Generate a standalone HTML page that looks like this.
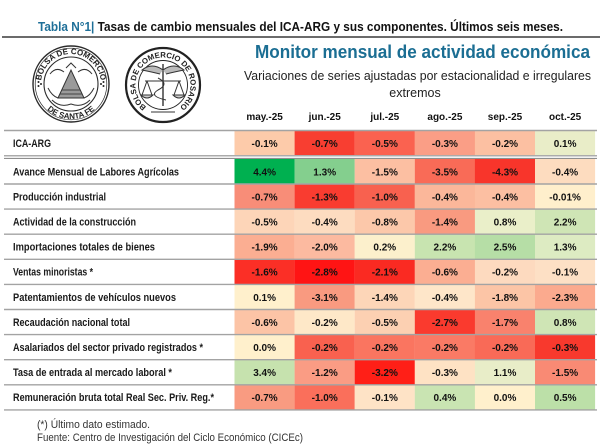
<!DOCTYPE html>
<html><head><meta charset="utf-8"><style>
html,body{margin:0;padding:0;background:#fff;}
svg{display:block;}
text{font-family:"Liberation Sans",sans-serif;}
</style></head><body>
<svg width="600" height="444" viewBox="0 0 600 444" xmlns="http://www.w3.org/2000/svg">
<rect width="600" height="444" fill="#fff"/>
<!-- Title -->
<text x="38" y="31" font-size="12.5" font-weight="bold" textLength="525" lengthAdjust="spacingAndGlyphs"><tspan fill="#1E6F98">Tabla N°1|</tspan><tspan fill="#111"> Tasas de cambio mensuales del ICA-ARG y sus componentes. Últimos seis meses.</tspan></text>
<line x1="2" y1="37" x2="600" y2="37" stroke="#6b6b6b" stroke-width="2"/>

<!-- Left logo -->
<g fill="none" stroke="#2a2a2a">
<circle cx="71" cy="84" r="38" stroke-width="1.4"/>
<circle cx="71" cy="84" r="35.8" stroke-width="0.7"/>
<circle cx="71" cy="84" r="27" stroke-width="1.1"/>
</g>
<defs>
<path id="lt" d="M 41 84 A 30 30 0 0 1 101 84"/>
<path id="lb" d="M 36 84 A 35 35 0 0 0 106 84"/>
<path id="rt" d="M 149.25 108.8 A 27.5 27.5 0 1 1 176.75 108.8"/>
</defs>
<text font-size="8" font-weight="bold" fill="#222"><textPath href="#lt" startOffset="50%" text-anchor="middle">BOLSA DE COMERCIO</textPath></text>
<text font-size="8" font-weight="bold" fill="#222"><textPath href="#lb" startOffset="50%" text-anchor="middle">DE SANTA FE</textPath></text>
<circle cx="38.5" cy="82" r="1" fill="#222"/><circle cx="38.5" cy="86" r="1" fill="#222"/><circle cx="41" cy="84" r="1" fill="#222"/>
<circle cx="103.5" cy="82" r="1" fill="#222"/><circle cx="103.5" cy="86" r="1" fill="#222"/><circle cx="101" cy="84" r="1" fill="#222"/>
<g stroke="#333" fill="none" stroke-width="1">
<path d="M58 98 L71 70 L84 98 Z" fill="#9a9a9a"/>
<path d="M62 90 L80 90 M60 94 L82 94" stroke="#444"/>
<path d="M50 74 Q56 66 64 72 M92 74 Q86 66 78 72"/>
<path d="M52 100 Q60 108 71 104 Q82 108 90 100"/>
<path d="M48 88 Q52 96 58 98 M94 88 Q90 96 84 98"/>
<path d="M66 68 L71 63 L76 68" />
</g>

<!-- Right logo -->
<g fill="none" stroke="#222">
<circle cx="163" cy="85" r="37" stroke-width="2.2"/>
<circle cx="163" cy="85" r="24.5" stroke-width="0.9"/>
</g>
<text font-size="7.8" font-weight="bold" fill="#222"><textPath href="#rt" startOffset="50%" text-anchor="middle">BOLSA DE COMERCIO DE ROSARIO</textPath></text>
<g stroke="#333" fill="none" stroke-width="1">
<line x1="163" y1="64" x2="163" y2="106" stroke-width="1.4"/>
<path d="M163 70 Q152 62 142 70 Q152 72 160 74 M163 70 Q174 62 184 70 Q174 72 166 74" fill="#bbb"/>
<line x1="145" y1="81" x2="181" y2="81"/>
<path d="M147 81 L142 95 M147 81 L152 95 M179 81 L174 95 M179 81 L184 95"/>
<path d="M141 95 Q147 101 153 95 Z M173 95 Q179 101 185 95 Z" fill="#ccc"/>
<path d="M158 78 Q170 84 158 90 Q148 96 166 100"/>
<line x1="151" y1="112" x2="175" y2="112"/>
</g>

<!-- Headings -->
<text x="255" y="58" font-size="18" font-weight="bold" fill="#1B6E93" textLength="335" lengthAdjust="spacingAndGlyphs">Monitor mensual de actividad económica</text>
<text x="244" y="80" font-size="12.5" fill="#222" textLength="347" lengthAdjust="spacingAndGlyphs">Variaciones de series ajustadas por estacionalidad e irregulares</text>
<text x="415" y="97" font-size="12.5" fill="#222" text-anchor="middle">extremos</text>

<g font-size="10" font-weight="bold" fill="#111" text-anchor="middle">
<text x="264.6" y="120">may.-25</text>
<text x="324.7" y="120">jun.-25</text>
<text x="384.8" y="120">jul.-25</text>
<text x="444.9" y="120">ago.-25</text>
<text x="505" y="120">sep.-25</text>
<text x="565.1" y="120">oct.-25</text>
</g>

<!-- ICA row cells -->
<g>
<rect x="234.5" y="131" width="60.2" height="24" fill="#FDCBAA"/>
<rect x="294.6" y="131" width="60.2" height="24" fill="#F83E31"/>
<rect x="354.7" y="131" width="60.2" height="24" fill="#FA6250"/>
<rect x="414.8" y="131" width="60.2" height="24" fill="#FA9E86"/>
<rect x="474.9" y="131" width="60.2" height="24" fill="#FCC0A2"/>
<rect x="535" y="131" width="60.1" height="24" fill="#E9EDC8"/>
</g>

<!-- Body cells -->
<g>
<rect x="234.5" y="159" width="60.2" height="25.1" fill="#00B050"/>
<rect x="294.6" y="159" width="60.2" height="25.1" fill="#84CF8E"/>
<rect x="354.7" y="159" width="60.2" height="25.1" fill="#FCBFA2"/>
<rect x="414.8" y="159" width="60.2" height="25.1" fill="#F96B57"/>
<rect x="474.9" y="159" width="60.2" height="25.1" fill="#F8352B"/>
<rect x="535" y="159" width="60.1" height="25.1" fill="#FDDCBF"/>
<rect x="234.5" y="184" width="60.2" height="25.2" fill="#F88D78"/>
<rect x="294.6" y="184" width="60.2" height="25.2" fill="#F93C30"/>
<rect x="354.7" y="184" width="60.2" height="25.2" fill="#F8614F"/>
<rect x="414.8" y="184" width="60.2" height="25.2" fill="#FBB79A"/>
<rect x="474.9" y="184" width="60.2" height="25.2" fill="#FCBFA2"/>
<rect x="535" y="184" width="60.1" height="25.2" fill="#FFEFCC"/>
<rect x="234.5" y="209.1" width="60.2" height="25.2" fill="#FDD5B8"/>
<rect x="294.6" y="209.1" width="60.2" height="25.2" fill="#FDDCC0"/>
<rect x="354.7" y="209.1" width="60.2" height="25.2" fill="#FCC8AA"/>
<rect x="414.8" y="209.1" width="60.2" height="25.2" fill="#F99A80"/>
<rect x="474.9" y="209.1" width="60.2" height="25.2" fill="#EAEFC9"/>
<rect x="535" y="209.1" width="60.1" height="25.2" fill="#CFE5B5"/>
<rect x="234.5" y="234.2" width="60.2" height="25.2" fill="#FBAE92"/>
<rect x="294.6" y="234.2" width="60.2" height="25.2" fill="#FCBAA0"/>
<rect x="354.7" y="234.2" width="60.2" height="25.2" fill="#FCF0CC"/>
<rect x="414.8" y="234.2" width="60.2" height="25.2" fill="#C8E4B0"/>
<rect x="474.9" y="234.2" width="60.2" height="25.2" fill="#B6DEA6"/>
<rect x="535" y="234.2" width="60.1" height="25.2" fill="#DDEBC2"/>
<rect x="234.5" y="259.3" width="60.2" height="25.2" fill="#FB2F26"/>
<rect x="294.6" y="259.3" width="60.2" height="25.2" fill="#FF1414"/>
<rect x="354.7" y="259.3" width="60.2" height="25.2" fill="#FA2A22"/>
<rect x="414.8" y="259.3" width="60.2" height="25.2" fill="#FBAE92"/>
<rect x="474.9" y="259.3" width="60.2" height="25.2" fill="#FDDABF"/>
<rect x="535" y="259.3" width="60.1" height="25.2" fill="#FDE0C5"/>
<rect x="234.5" y="284.4" width="60.2" height="25.2" fill="#FFF0CC"/>
<rect x="294.6" y="284.4" width="60.2" height="25.2" fill="#F99A80"/>
<rect x="354.7" y="284.4" width="60.2" height="25.2" fill="#FDD6B8"/>
<rect x="414.8" y="284.4" width="60.2" height="25.2" fill="#FEE6C9"/>
<rect x="474.9" y="284.4" width="60.2" height="25.2" fill="#FCC5A6"/>
<rect x="535" y="284.4" width="60.1" height="25.2" fill="#FBAA8E"/>
<rect x="234.5" y="309.5" width="60.2" height="25.2" fill="#FCC4A6"/>
<rect x="294.6" y="309.5" width="60.2" height="25.2" fill="#FEE8C8"/>
<rect x="354.7" y="309.5" width="60.2" height="25.2" fill="#FCD0B2"/>
<rect x="414.8" y="309.5" width="60.2" height="25.2" fill="#FA3A2E"/>
<rect x="474.9" y="309.5" width="60.2" height="25.2" fill="#F9826D"/>
<rect x="535" y="309.5" width="60.1" height="25.2" fill="#CFE5B5"/>
<rect x="234.5" y="334.6" width="60.2" height="25.2" fill="#FFF0CC"/>
<rect x="294.6" y="334.6" width="60.2" height="25.2" fill="#F9614F"/>
<rect x="354.7" y="334.6" width="60.2" height="25.2" fill="#FA7560"/>
<rect x="414.8" y="334.6" width="60.2" height="25.2" fill="#FA7A65"/>
<rect x="474.9" y="334.6" width="60.2" height="25.2" fill="#F96A57"/>
<rect x="535" y="334.6" width="60.1" height="25.2" fill="#F8392D"/>
<rect x="234.5" y="359.7" width="60.2" height="25.2" fill="#C6E2AE"/>
<rect x="294.6" y="359.7" width="60.2" height="25.2" fill="#FA9C84"/>
<rect x="354.7" y="359.7" width="60.2" height="25.2" fill="#FF1F17"/>
<rect x="414.8" y="359.7" width="60.2" height="25.2" fill="#FEE2C4"/>
<rect x="474.9" y="359.7" width="60.2" height="25.2" fill="#E8EDC8"/>
<rect x="535" y="359.7" width="60.1" height="25.2" fill="#F98A74"/>
<rect x="234.5" y="384.8" width="60.2" height="25.1" fill="#F99B81"/>
<rect x="294.6" y="384.8" width="60.2" height="25.1" fill="#FA6F5B"/>
<rect x="354.7" y="384.8" width="60.2" height="25.1" fill="#FEE3C6"/>
<rect x="414.8" y="384.8" width="60.2" height="25.1" fill="#C9E4B2"/>
<rect x="474.9" y="384.8" width="60.2" height="25.1" fill="#FFF0CC"/>
<rect x="535" y="384.8" width="60.1" height="25.1" fill="#BCE0A8"/>
</g>

<!-- Lines -->
<g stroke="#A3A3A3">
<line x1="4" y1="130.5" x2="597" y2="130.5" stroke-width="1.5"/>
<line x1="4" y1="155.8" x2="597" y2="155.8" stroke-width="1.1" stroke="#8f8f8f"/>
<line x1="4" y1="158.4" x2="597" y2="158.4" stroke-width="1.1" stroke="#8f8f8f"/>
<line x1="4" y1="184" x2="597" y2="184" stroke-width="1.4"/>
<line x1="4" y1="209.1" x2="597" y2="209.1" stroke-width="1.4"/>
<line x1="4" y1="234.2" x2="597" y2="234.2" stroke-width="1.4"/>
<line x1="4" y1="259.3" x2="597" y2="259.3" stroke-width="1.4"/>
<line x1="4" y1="284.4" x2="597" y2="284.4" stroke-width="1.4"/>
<line x1="4" y1="309.5" x2="597" y2="309.5" stroke-width="1.4"/>
<line x1="4" y1="334.6" x2="597" y2="334.6" stroke-width="1.4"/>
<line x1="4" y1="359.7" x2="597" y2="359.7" stroke-width="1.4"/>
<line x1="4" y1="384.8" x2="597" y2="384.8" stroke-width="1.4"/>
<line x1="4" y1="409.9" x2="597" y2="409.9" stroke-width="1.4"/>
</g>

<!-- Labels -->
<g font-size="11" font-weight="bold" fill="#1a1a1a">
<text x="13" y="147" textLength="38" lengthAdjust="spacingAndGlyphs">ICA-ARG</text>
<text x="13" y="175.3" textLength="166" lengthAdjust="spacingAndGlyphs">Avance Mensual de Labores Agrícolas</text>
<text x="13" y="200.4" textLength="93" lengthAdjust="spacingAndGlyphs">Producción industrial</text>
<text x="13" y="225.5" textLength="123" lengthAdjust="spacingAndGlyphs">Actividad de la construcción</text>
<text x="13" y="250.6" textLength="142" lengthAdjust="spacingAndGlyphs">Importaciones totales de bienes</text>
<text x="13" y="275.7" textLength="80" lengthAdjust="spacingAndGlyphs">Ventas minoristas *</text>
<text x="13" y="300.8" textLength="163" lengthAdjust="spacingAndGlyphs">Patentamientos de vehículos nuevos</text>
<text x="13" y="325.9" textLength="117" lengthAdjust="spacingAndGlyphs">Recaudación nacional total</text>
<text x="13" y="351" textLength="190" lengthAdjust="spacingAndGlyphs">Asalariados del sector privado registrados *</text>
<text x="13" y="376.1" textLength="159" lengthAdjust="spacingAndGlyphs">Tasa de entrada al mercado laboral *</text>
<text x="13" y="401.2" textLength="201" lengthAdjust="spacingAndGlyphs">Remuneración bruta total Real Sec. Priv. Reg.*</text>
</g>

<!-- Values -->
<g font-size="10" font-weight="bold" fill="#111" text-anchor="middle">
<text x="264.6" y="147">-0.1%</text><text x="324.7" y="147">-0.7%</text><text x="384.8" y="147">-0.5%</text><text x="444.9" y="147">-0.3%</text><text x="505" y="147">-0.2%</text><text x="565.1" y="147">0.1%</text>
<text x="264.6" y="175.3">4.4%</text><text x="324.7" y="175.3">1.3%</text><text x="384.8" y="175.3">-1.5%</text><text x="444.9" y="175.3">-3.5%</text><text x="505" y="175.3">-4.3%</text><text x="565.1" y="175.3">-0.4%</text>
<text x="264.6" y="200.4">-0.7%</text><text x="324.7" y="200.4">-1.3%</text><text x="384.8" y="200.4">-1.0%</text><text x="444.9" y="200.4">-0.4%</text><text x="505" y="200.4">-0.4%</text><text x="565.1" y="200.4">-0.01%</text>
<text x="264.6" y="225.5">-0.5%</text><text x="324.7" y="225.5">-0.4%</text><text x="384.8" y="225.5">-0.8%</text><text x="444.9" y="225.5">-1.4%</text><text x="505" y="225.5">0.8%</text><text x="565.1" y="225.5">2.2%</text>
<text x="264.6" y="250.6">-1.9%</text><text x="324.7" y="250.6">-2.0%</text><text x="384.8" y="250.6">0.2%</text><text x="444.9" y="250.6">2.2%</text><text x="505" y="250.6">2.5%</text><text x="565.1" y="250.6">1.3%</text>
<text x="264.6" y="275.7">-1.6%</text><text x="324.7" y="275.7">-2.8%</text><text x="384.8" y="275.7">-2.1%</text><text x="444.9" y="275.7">-0.6%</text><text x="505" y="275.7">-0.2%</text><text x="565.1" y="275.7">-0.1%</text>
<text x="264.6" y="300.8">0.1%</text><text x="324.7" y="300.8">-3.1%</text><text x="384.8" y="300.8">-1.4%</text><text x="444.9" y="300.8">-0.4%</text><text x="505" y="300.8">-1.8%</text><text x="565.1" y="300.8">-2.3%</text>
<text x="264.6" y="325.9">-0.6%</text><text x="324.7" y="325.9">-0.2%</text><text x="384.8" y="325.9">-0.5%</text><text x="444.9" y="325.9">-2.7%</text><text x="505" y="325.9">-1.7%</text><text x="565.1" y="325.9">0.8%</text>
<text x="264.6" y="351">0.0%</text><text x="324.7" y="351">-0.2%</text><text x="384.8" y="351">-0.2%</text><text x="444.9" y="351">-0.2%</text><text x="505" y="351">-0.2%</text><text x="565.1" y="351">-0.3%</text>
<text x="264.6" y="376.1">3.4%</text><text x="324.7" y="376.1">-1.2%</text><text x="384.8" y="376.1">-3.2%</text><text x="444.9" y="376.1">-0.3%</text><text x="505" y="376.1">1.1%</text><text x="565.1" y="376.1">-1.5%</text>
<text x="264.6" y="401.2">-0.7%</text><text x="324.7" y="401.2">-1.0%</text><text x="384.8" y="401.2">-0.1%</text><text x="444.9" y="401.2">0.4%</text><text x="505" y="401.2">0.0%</text><text x="565.1" y="401.2">0.5%</text>
</g>

<!-- Footer -->
<text x="37" y="428" font-size="11" fill="#333" textLength="113" lengthAdjust="spacingAndGlyphs">(*) Último dato estimado.</text>
<text x="37" y="441" font-size="11" fill="#333" textLength="266" lengthAdjust="spacingAndGlyphs">Fuente: Centro de Investigación del Ciclo Económico (CICEc)</text>
</svg>
</body></html>
